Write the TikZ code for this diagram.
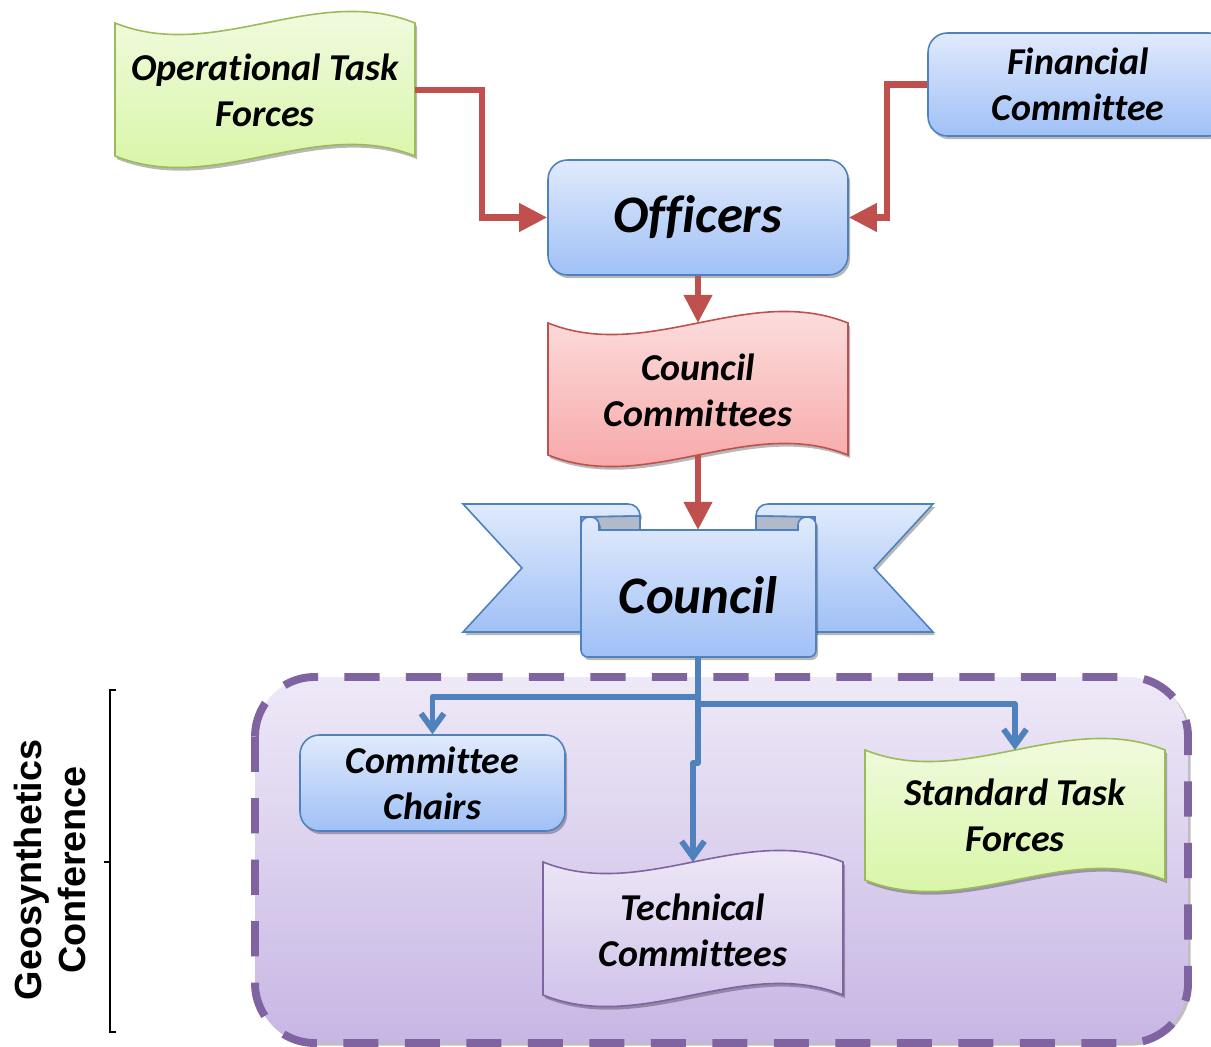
\documentclass[tikz,border=0pt]{standalone}
\usepackage{fontspec}
\setmainfont{Carlito}[Ligatures=NoCommon]
\newfontfamily\arialfont{Liberation Sans}
\usetikzlibrary{arrows.meta,shadows,calc}

\definecolor{bluetop}{RGB}{224,234,252}
\definecolor{bluebot}{RGB}{160,192,246}
\definecolor{blueline}{RGB}{79,129,189}
\definecolor{greentop}{RGB}{244,251,232}
\definecolor{greenbot}{RGB}{213,245,158}
\definecolor{greenline}{RGB}{155,187,89}
\definecolor{redtop}{RGB}{253,230,230}
\definecolor{redbot}{RGB}{246,160,160}
\definecolor{redline}{RGB}{192,80,77}
\definecolor{lavtop}{RGB}{242,238,249}
\definecolor{lavbot}{RGB}{204,188,232}
\definecolor{lavline}{RGB}{128,100,162}
\definecolor{regtop}{RGB}{238,233,247}
\definecolor{regbot}{RGB}{199,182,228}
\definecolor{foldgrey}{RGB}{176,186,202}

\newcommand\wavepath[5]{(#1,#3) .. controls ({#1+(#2-#1)/3},{#3+#5}) and ({#1+2*(#2-#1)/3},{#3-#5}) .. (#2,#3) -- (#2,#4) .. controls ({#1+2*(#2-#1)/3},{#4-#5}) and ({#1+(#2-#1)/3},{#4+#5}) .. (#1,#4) -- cycle}

\begin{document}
\begin{tikzpicture}[x=0.02cm,y=-0.02cm,
  shd/.style={drop shadow={shadow xshift=1.2pt,shadow yshift=-1.8pt,opacity=0.28,fill=black}},
  bluefill/.style={top color=bluetop,bottom color=bluebot,draw=blueline,line width=0.9pt},
  greenfill/.style={top color=greentop,bottom color=greenbot,draw=greenline,line width=0.9pt},
  redfill/.style={top color=redtop,bottom color=redbot,draw=redline,line width=0.9pt},
  lavfill/.style={top color=lavtop,bottom color=lavbot,draw=lavline,line width=0.9pt},
  lbl/.style={font=\fontsize{21.6}{26.2}\selectfont\bfseries\itshape, align=center, text=black},
  biglbl/.style={font=\fontsize{30}{36}\selectfont\bfseries\itshape, text=black},
  bluebox/.style={bluefill, rounded corners=11pt, shd, lbl, inner sep=0pt},
  region/.style={top color=regtop,bottom color=regbot,draw=lavline,line width=4.5pt,
     dash pattern=on 20pt off 15pt, rounded corners=34pt,
     drop shadow={shadow xshift=1.5pt,shadow yshift=-1.5pt,opacity=0.25,fill=black}},
  redarrow/.style={draw=redline, line width=3.7pt, -{Triangle[length=16pt,width=15.5pt]}},
  bluearrow/.style={draw=blueline, line width=3.3pt, line join=round, -{Straight Barb[length=9pt,width=13pt]}},
  bracket/.style={draw=black, line width=0.6pt}
]
\useasboundingbox (0,0) rectangle (1211,1047);

% conference region
\path[region] (255,677) rectangle (1188,1043);

% bracket and label
\draw[bracket] (116,690) -- (110,690) -- (110,1032) -- (116,1032);
\draw[bracket] (104,862) -- (110,862);
\node[rotate=90, align=center, font=\arialfont\bfseries\fontsize{21.5}{25}\selectfont] (geo) at (50,870) {Geosynthetics\\Conference};

% Operational Task Forces (wave)
\draw[greenfill,shd] \wavepath{115}{415}{23}{156}{40};
\node[lbl] (otf) at (265,90) {Operational Task\\Forces};
\coordinate (otf-e) at (415,90);

% Financial Committee
\node[bluebox, minimum width=6cm, minimum height=2.06cm] (fin) at (1078,84.5) {Financial\\Committee};

% Officers
\node[bluebox, biglbl, minimum width=6cm, minimum height=2.3cm] (officers) at (698,217.5) {Officers};

% Council Committees (wave)
\draw[redfill,shd] \wavepath{548}{848}{323}{455}{40};
\node[lbl] (cc) at (698,390) {Council\\Committees};
\coordinate (cc-n) at (698,323);
\coordinate (cc-s) at (698,455);

% Council banner
\path[bluefill,shd] (463,504) -- (628,504) .. controls (635,504) and (640,509) .. (640,516) -- (581,517) -- (581,632) -- (463,632) -- (522,568) -- cycle;
\path[bluefill,shd] (933,504) -- (768,504) .. controls (761,504) and (756,509) .. (756,516) -- (815,517) -- (815,632) -- (933,632) -- (874,568) -- cycle;
\path[fill=foldgrey, draw=blueline, line width=0.9pt] (585,517) -- (640,516) -- (640,531) -- (585,531) -- cycle;
\path[fill=foldgrey, draw=blueline, line width=0.9pt] (811,517) -- (756,516) -- (756,531) -- (811,531) -- cycle;
\path[bluefill,shd] (581,525) .. controls (581,520) and (585,517) .. (590,517) .. controls (595,517) and (599,520) .. (599,525)
   -- (599,530) -- (798,530) -- (798,525)
   .. controls (798,520) and (802,517) .. (807,517)
   .. controls (812,517) and (816,520) .. (816,525) -- (816,650) .. controls (816,654) and (813,657) .. (809,657)
   -- (588,657) .. controls (584,657) and (581,654) .. (581,650) -- cycle;
\node[biglbl] (council) at (698,595) {Council};
\coordinate (council-n) at (698,530);
\coordinate (council-s) at (698,657);

% Committee Chairs
\node[bluebox, minimum width=5.3cm, minimum height=1.92cm] (chairs) at (432.5,783) {Committee\\Chairs};

% Technical Committees (wave)
\draw[lavfill,shd] \wavepath{543}{843}{862}{995}{40};
\node[lbl] (tc) at (693,930) {Technical\\Committees};
\coordinate (tc-n) at (693,862);

% Standard Task Forces (wave)
\draw[greenfill,shd] \wavepath{865}{1165}{750}{880}{40};
\node[lbl] (stf) at (1015,815) {Standard Task\\Forces};
\coordinate (stf-n) at (1015,750);

% red connectors
\draw[redarrow] (otf-e) -- (482,90) |- (officers.west);
\draw[redarrow] (fin.west) -- (887,84.5) |- (officers.east);
\draw[redarrow] (officers.south) -- (cc-n);
\draw[redarrow] (cc-s) -- (council-n);

% blue connectors
\coordinate (hubL) at (698,697);
\coordinate (hubR) at (698,704);
\coordinate (jog) at (698,763);
\draw[bluearrow] (council-s) -- (hubL) -| (chairs.north);
\draw[bluearrow] (hubR) -| (stf-n);
\draw[bluearrow] (council-s) -- (jog) -- ++(-5,0) -- (tc-n);
\end{tikzpicture}
\end{document}
